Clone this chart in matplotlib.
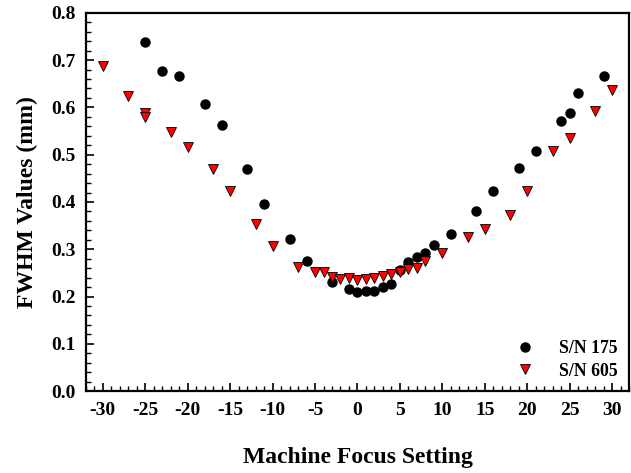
import matplotlib.pyplot as plt
from matplotlib.ticker import MultipleLocator

plt.rcParams['font.family'] = ['Liberation Serif', 'DejaVu Serif']
plt.rcParams['font.weight'] = 'bold'
plt.rcParams['axes.unicode_minus'] = False

# S/N 175 (black circles)
x175 = [-25, -23, -21, -18, -16, -13, -11, -8, -6, -3, -1, 0, 1, 2, 3, 4, 5, 6, 7, 8, 9,
        11, 14, 16, 19, 21, 24, 25, 26, 29]
y175 = [0.739, 0.676, 0.667, 0.608, 0.562, 0.470, 0.396, 0.322, 0.276, 0.230, 0.215, 0.210,
        0.211, 0.212, 0.221, 0.226, 0.257, 0.274, 0.284, 0.293, 0.309,
        0.333, 0.381, 0.423, 0.471, 0.508, 0.571, 0.588, 0.630, 0.667]

# S/N 605 (red triangles)
x605 = [-30, -27, -25, -25, -22, -20, -17, -15, -12, -10, -7, -5, -4, -3, -2, -1, 0, 1, 2,
        3, 4, 5, 6, 7, 8, 10, 13, 15, 18, 20, 23, 25, 28, 30]
y605 = [0.687, 0.624, 0.589, 0.580, 0.548, 0.516, 0.469, 0.423, 0.354, 0.306, 0.263, 0.252,
        0.252, 0.242, 0.237, 0.239, 0.235, 0.237, 0.239,
        0.243, 0.247, 0.252, 0.259, 0.261, 0.276, 0.292, 0.325, 0.343, 0.372, 0.424,
        0.507, 0.536, 0.593, 0.636]

fig = plt.figure(figsize=(6.31, 4.73), dpi=100)
ax = fig.add_axes([0.136, 0.173, 0.861, 0.800])

ax.plot(x175, y175, 'o', color='black', markersize=6.5, linestyle='none', label='S/N 175')
ax.plot(x605, y605, 'v', markerfacecolor='red', markeredgecolor='black', markeredgewidth=0.6,
        markersize=6.8, linestyle='none', label='S/N 605')

ax.set_xlim(-32, 32)
ax.set_ylim(0, 0.8)
ax.xaxis.set_major_locator(MultipleLocator(5))
ax.xaxis.set_minor_locator(MultipleLocator(1))
ax.yaxis.set_major_locator(MultipleLocator(0.1))
ax.yaxis.set_minor_locator(MultipleLocator(0.02))
ax.yaxis.set_major_formatter(plt.FuncFormatter(lambda v, p: f'{v:.1f}'))

ax.tick_params(which='both', direction='in', top=False, right=False, labelsize=14)
ax.tick_params(which='major', length=6, width=1.2)
ax.tick_params(axis='x', which='major', pad=8)
ax.tick_params(axis='y', which='major', pad=7)
ax.tick_params(which='minor', length=3.5, width=1.0)
for s in ax.spines.values():
    s.set_linewidth(1.6)

ax.set_xlabel('Machine Focus Setting', fontsize=17, fontweight='bold', labelpad=20)
ax.set_ylabel('FWHM Values (mm)', fontsize=17, fontweight='bold', labelpad=10)

ax.legend(loc='lower right', frameon=False, fontsize=12.8, handletextpad=0.9,
          borderaxespad=0.3, labelspacing=0.3, borderpad=0.35)

fig.savefig('out.png', dpi=100)
